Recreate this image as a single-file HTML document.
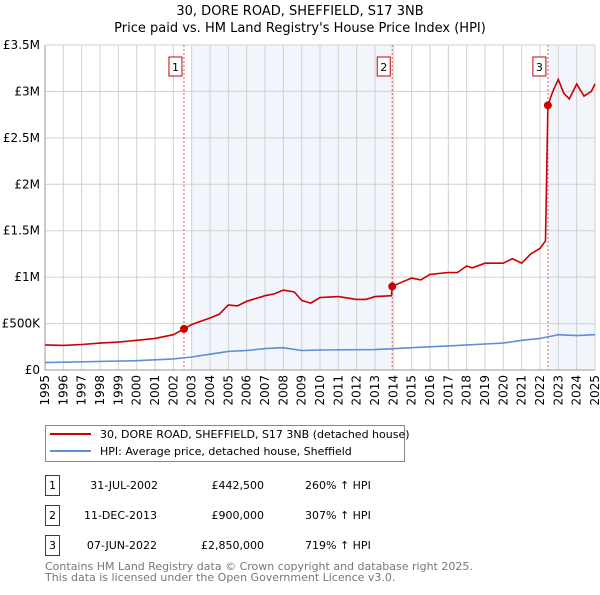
<!DOCTYPE html>
<html><head><meta charset="utf-8"><style>
body{margin:0;background:#fff;font-family:"Liberation Sans","DejaVu Sans",sans-serif;}
svg text{font-family:"DejaVu Sans","Liberation Sans",sans-serif;}
</style></head><body>
<svg id="chart" width="600" height="590" xmlns="http://www.w3.org/2000/svg">
<text x="300" y="15" text-anchor="middle" font-size="13">30, DORE ROAD, SHEFFIELD, S17 3NB</text>
<text x="300" y="32" text-anchor="middle" font-size="13">Price paid vs. HM Land Registry's House Price Index (HPI)</text>
<g id="plot"></g>
<g>
<rect x="45.5" y="425.5" width="359" height="36" fill="#fff" stroke="#888"/>
<line x1="50" y1="434" x2="91" y2="434" stroke="#cc0000" stroke-width="2"/>
<text x="100" y="438" font-size="11">30, DORE ROAD, SHEFFIELD, S17 3NB (detached house)</text>
<line x1="50" y1="451" x2="91" y2="451" stroke="#5b8fd6" stroke-width="2"/>
<text x="100" y="455" font-size="11">HPI: Average price, detached house, Sheffield</text>
</g>
<g font-size="11">
<rect x="45.5" y="475.5" width="14" height="20" fill="#fff" stroke="#cc0000"/><text x="52.5" y="489" text-anchor="middle">1</text>
<text x="158" y="489" text-anchor="end">31-JUL-2002</text><text x="264" y="489" text-anchor="end">£442,500</text><text x="305" y="489">260% ↑ HPI</text>
<rect x="45.5" y="505.5" width="14" height="20" fill="#fff" stroke="#cc0000"/><text x="52.5" y="519" text-anchor="middle">2</text>
<text x="157" y="519" text-anchor="end">11-DEC-2013</text><text x="264" y="519" text-anchor="end">£900,000</text><text x="305" y="519">307% ↑ HPI</text>
<rect x="45.5" y="535.5" width="14" height="20" fill="#fff" stroke="#cc0000"/><text x="52.5" y="549" text-anchor="middle">3</text>
<text x="157" y="549" text-anchor="end">07-JUN-2022</text><text x="264" y="549" text-anchor="end">£2,850,000</text><text x="305" y="549">719% ↑ HPI</text>
</g>
<text x="45" y="570" font-size="11" fill="#777">Contains HM Land Registry data © Crown copyright and database right 2025.</text>
<text x="45" y="581" font-size="11" fill="#777">This data is licensed under the Open Government Licence v3.0.</text>
</svg>
<script>
const yTicks=[0,500000,1000000,1500000,2000000,2500000,3000000,3500000];
const yTickLabels=["£0","£500K","£1M","£1.5M","£2M","£2.5M","£3M","£3.5M"];
const years=[1995,1996,1997,1998,1999,2000,2001,2002,2003,2004,2005,2006,2007,2008,2009,2010,2011,2012,2013,2014,2015,2016,2017,2018,2019,2020,2021,2022,2023,2024,2025];
const saleDates=[2002.58,2013.94,2022.43];
const salePrices=[442500,900000,2850000];
const saleLabels=["1","2","3"];
const propT=[1995,1996,1997,1998,1999,2000,2001,2002,2002.58,2003,2004,2004.5,2005,2005.5,2006,2007,2007.5,2008,2008.6,2009,2009.5,2010,2011,2012,2012.5,2013,2013.9,2013.94,2014.5,2015,2015.5,2016,2017,2017.5,2018,2018.3,2019,2020,2020.5,2021,2021.5,2022,2022.3,2022.43,2022.7,2023,2023.3,2023.6,2024,2024.4,2024.8,2025];
const propV=[270000,265000,275000,290000,300000,320000,340000,380000,442500,490000,560000,600000,700000,690000,740000,800000,820000,860000,840000,750000,720000,780000,790000,760000,760000,790000,800000,900000,950000,990000,970000,1030000,1050000,1050000,1120000,1100000,1150000,1150000,1200000,1150000,1250000,1310000,1390000,2850000,3000000,3130000,2980000,2920000,3080000,2950000,3000000,3080000];
const hpiT=[1995,2000,2002,2003,2004,2005,2006,2007,2008,2009,2010,2013,2015,2017,2019,2020,2021,2022,2022.5,2023,2024,2025];
const hpiV=[80000,100000,120000,140000,170000,200000,210000,230000,240000,210000,215000,220000,240000,260000,280000,290000,320000,340000,360000,380000,370000,380000];
const X0=45,X1=595,Y0=370,Y1=45;
const xs=t=>X0+(t-1995)/(2025-1995)*(X1-X0);
const ys=v=>Y0-v/3500000*(Y0-Y1);
const NS="http://www.w3.org/2000/svg";
const g=document.getElementById('plot');
function mk(tag,attrs,parent){const e=document.createElementNS(NS,tag);for(const k in attrs)e.setAttribute(k,attrs[k]);(parent||g).appendChild(e);return e;}
let s;
s=mk('rect',{x:xs(2003),y:Y1,width:xs(saleDates[1])-xs(2003),height:Y0-Y1,fill:'#f2f6fc'});


s=mk('rect',{x:xs(saleDates[2]),y:Y1,width:X1-xs(saleDates[2]),height:Y0-Y1,fill:'#f2f6fc'});


years.forEach((yr,i)=>{
 const l=mk('line',{x1:xs(yr),x2:xs(yr),y1:Y1,y2:Y0,stroke:'#d0d0d0'});
 
 
 const tx=xs(yr)+4, ty=375;
 const t=mk('text',{x:tx,y:ty,'text-anchor':'end','font-size':12,transform:`rotate(-90 ${tx} ${ty})`});
 t.textContent=yr;
 
 
});
yTicks.forEach((v,i)=>{
 const l=mk('line',{x1:X0,x2:X1,y1:ys(v),y2:ys(v),stroke:'#d0d0d0'});
 
 
 const t=mk('text',{x:40,y:ys(v)+4,'text-anchor':'end','font-size':12});
 t.textContent=yTickLabels[i];
 
 
});
const ax=mk('path',{d:`M${X0},${Y1}V${Y0}H${X1}`,fill:'none',stroke:'#999'});


saleDates.forEach((d,i)=>{
 const l=mk('line',{x1:xs(d),x2:xs(d),y1:Y1,y2:Y0,stroke:'#e06060','stroke-dasharray':'2,2'});
 
 
 const r=mk('rect',{x:xs(d)-15,y:57,width:13,height:19,fill:'#fff',stroke:'#cc0000'});
 
 
 const t=mk('text',{x:xs(d)-8.5,y:71,'text-anchor':'middle','font-size':11});
 t.textContent=saleLabels[i];
 
 
});
const hp=mk('path',{d:hpiT.map((t,i)=>(i?'L':'M')+xs(t).toFixed(1)+','+ys(hpiV[i]).toFixed(1)).join(''),fill:'none',stroke:'#5b8fd6','stroke-width':1.6});


const pp=mk('path',{d:propT.map((t,i)=>(i?'L':'M')+xs(t).toFixed(1)+','+ys(propV[i]).toFixed(1)).join(''),fill:'none',stroke:'#cc0000','stroke-width':1.6});


saleDates.forEach((d,i)=>{
 const c=mk('circle',{cx:xs(d),cy:ys(salePrices[i]),r:4,fill:'#cc0000'});
 
 
});
</script>
</body></html>
